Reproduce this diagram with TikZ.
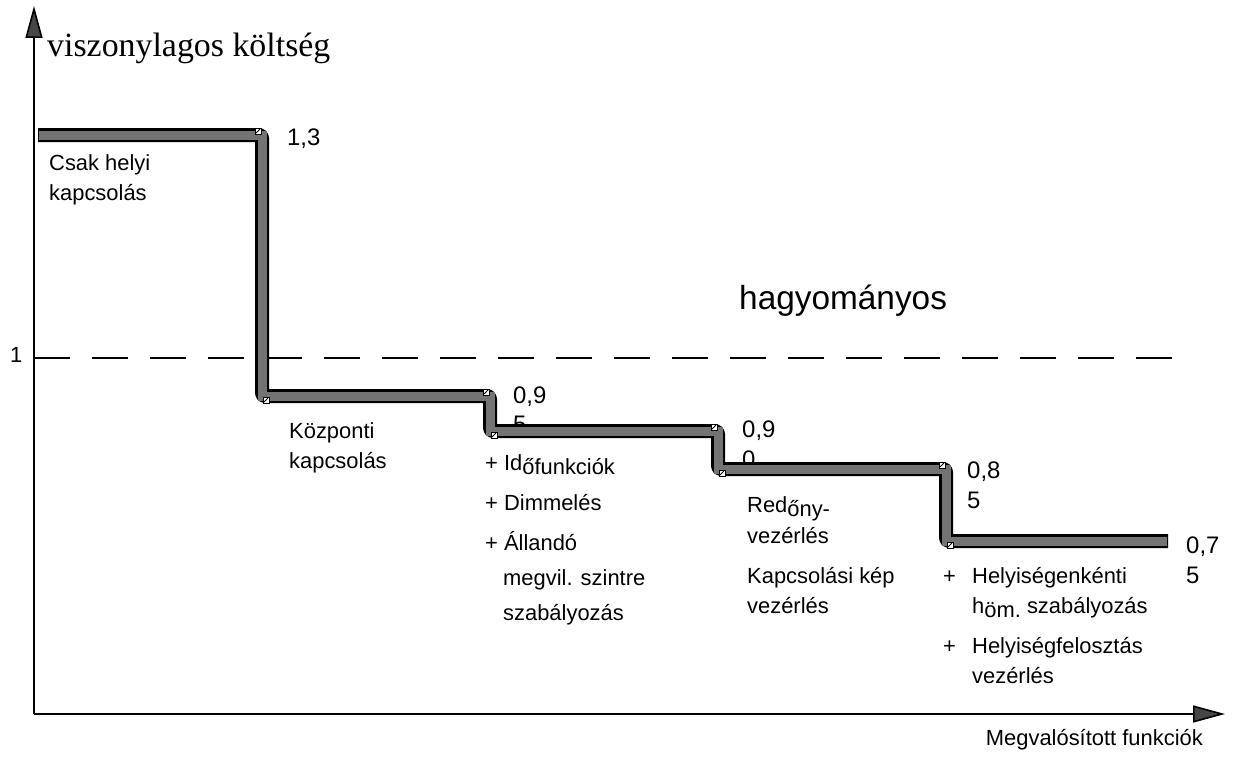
\documentclass[tikz,border=0pt]{standalone}
\usepackage{fontspec}
\setmainfont{Liberation Sans}
\newfontfamily\serifft{Liberation Serif}
\usetikzlibrary{arrows.meta}
\begin{document}
\begin{tikzpicture}[x=1bp,y=-1bp,
  lbl/.style={anchor=base west, inner sep=0pt, font=\fontsize{22}{26}\selectfont},
  num/.style={anchor=base west, inner sep=0pt, font=\fontsize{24}{28}\selectfont},
  axisline/.style={line width=1.6bp, -{Triangle[length=32bp,width=17bp,fill=gray!55!black]}},
  dashline/.style={line width=1.6bp, dash pattern=on 36bp off 22bp},
  stepouter/.style={line width=14bp, black, rounded corners=3bp, line join=round},
  stepinner/.style={line width=9bp, black!55, line join=miter},
  cornermark/.style={fill=white, draw=black, line width=0.6bp},
]
\useasboundingbox (0,0) rectangle (1237,758);

% axes
\coordinate (O) at (34,714);
\coordinate (Ytop) at (34,6);
\coordinate (Xend) at (1225,714);
\draw[axisline] (O) -- (Ytop);
\draw[axisline] (O) -- (Xend);

% dashed reference line
\coordinate (d0) at (34,358);
\coordinate (d1) at (1185,358);
\draw[dashline] (d0) -- (d1);

% labels drawn before the step (partly hidden by it)
\node[num] (n13) at (287,145) {1,3};
\node[num] (n095a) at (513,403) {0,9};
\node[num] (n095b) at (513,432) {5};
\node[num] (n090a) at (742,437) {0,9};
\node[num] (n090b) at (742,467) {0};
\node[num] (n085a) at (967,478) {0,8};
\node[num] (n085b) at (967,508) {5};
\node[num] (n075a) at (1186,553) {0,7};
\node[num] (n075b) at (1186,583) {5};

% step curve
\coordinate (p0) at (38,135);
\coordinate (p1) at (262,135);
\coordinate (p2) at (262,396);
\coordinate (p3) at (490,396);
\coordinate (p4) at (490,431);
\coordinate (p5) at (718,431);
\coordinate (p6) at (718,469);
\coordinate (p7) at (946,469);
\coordinate (p8) at (946,541);
\coordinate (p9) at (1168,541);
\draw[stepouter] (p0) -- (p1) -- (p2) -- (p3) -- (p4) -- (p5) -- (p6) -- (p7) -- (p8) -- (p9);
\draw[stepinner] ([xshift=1bp]p0) -- (p1) -- (p2) -- (p3) -- (p4) -- (p5) -- (p6) -- (p7) -- (p8) -- ([xshift=-1bp]p9);
\foreach \c in {p1,p3,p5,p7} {
  \draw[cornermark] ([xshift=-7bp,yshift=1bp]\c) rectangle ([xshift=-1bp,yshift=7bp]\c);
  \draw[line width=0.8bp] ([xshift=-6bp,yshift=2bp]\c) -- ([xshift=-2bp,yshift=6bp]\c);
}
\foreach \c in {p2,p4,p6,p8} {
  \draw[cornermark] ([xshift=1bp,yshift=-7bp]\c) rectangle ([xshift=7bp,yshift=-1bp]\c);
  \draw[line width=0.8bp] ([xshift=2bp,yshift=-6bp]\c) -- ([xshift=6bp,yshift=-2bp]\c);
}

% axis titles
\node[anchor=base west, inner sep=0pt, font=\serifft\fontsize{34}{39}\selectfont] (ytitle) at (47,57) {viszonylagos költség};
\node[anchor=base east, inner sep=0pt, font=\fontsize{22}{26}\selectfont] (xtitle) at (1203,745) {Megvalósított funkciók};
\node[lbl] (one) at (10,362) {1};
\node[anchor=base west, inner sep=0pt, font=\fontsize{33.5}{38}\selectfont] (hagy) at (739,309) {hagyományos};

% step descriptions
\node[lbl] (t1a) at (49,170) {Csak helyi};
\node[lbl] (t1b) at (49,200) {kapcsolás};
\node[lbl] (t2a) at (289,438) {Központi};
\node[lbl] (t2b) at (289,468) {kapcsolás};
\node[lbl] (t3a) at (485,470) {+ Id\raisebox{-4bp}{őfunkciók}};
\node[lbl] (t3b) at (485,510) {+ Dimmelés};
\node[lbl] (t3c) at (485,550) {+ Állandó};
\node[lbl] (t3d) at (503,585) {megvil. szintre};
\node[lbl] (t3e) at (503,620) {szabályozás};
\node[lbl] (t4a) at (747,512) {Red\raisebox{-4bp}{őny-}};
\node[lbl] (t4b) at (747,543) {vezérlés};
\node[lbl] (t4c) at (747,583) {Kapcsolási kép};
\node[lbl] (t4d) at (747,613) {vezérlés};
\node[lbl] (t5p1) at (943,583) {+};
\node[lbl] (t5a) at (972,583) {Helyiségenkénti};
\node[lbl] (t5b) at (972,613) {h\raisebox{-4bp}{öm.} szabályozás};
\node[lbl] (t5p2) at (943,653) {+};
\node[lbl] (t5c) at (972,653) {Helyiségfelosztás};
\node[lbl] (t5d) at (972,683) {vezérlés};
\end{tikzpicture}
\end{document}
